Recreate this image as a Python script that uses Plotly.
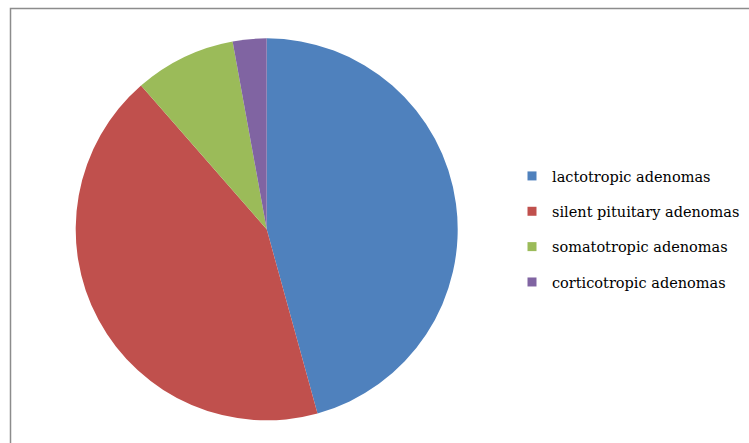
import plotly.graph_objects as go

categories = ["lactotropic adenomas", "silent pituitary adenomas",
              "somatotropic adenomas", "corticotropic adenomas"]
values = [16, 15, 3, 1]
colors = ["#4F81BD", "#C0504D", "#9BBB59", "#8064A2"]

W, H = 749, 443
fig = go.Figure()
fig.add_trace(go.Pie(
    labels=categories, values=values, sort=False, direction="clockwise",
    rotation=0, textinfo="none", hoverinfo="label+value+percent",
    marker=dict(colors=colors, line=dict(width=0)),
    domain=dict(x=[75.7 / W, 457.7 / W], y=[1 - 420.7 / H, 1 - 38 / H]),
    showlegend=False,
))
for c, col in zip(categories, colors):
    fig.add_trace(go.Scatter(
        x=[None], y=[None], mode="markers", name=c, legendgroup=c,
        marker=dict(symbol="square", size=9, color=col),
    ))

fig.update_layout(
    width=W, height=H, margin=dict(l=0, r=0, t=0, b=0, autoexpand=False),
    paper_bgcolor="white", plot_bgcolor="white",
    xaxis=dict(visible=False), yaxis=dict(visible=False),
    legend=dict(x=512 / W, y=1 - 160 / H, xanchor="left", yanchor="top",
                font=dict(family="DejaVu Serif", size=14.5, color="black"),
                tracegroupgap=13.5, itemwidth=30, bgcolor="rgba(0,0,0,0)"),
    shapes=[dict(type="rect", xref="paper", yref="paper",
                 x0=10.5 / W, x1=1.05, y0=-0.05, y1=1 - 8.5 / H,
                 line=dict(color="#8c8c8c", width=1.5), fillcolor="rgba(0,0,0,0)",
                 layer="below")],
)
fig.write_html("out.html")
